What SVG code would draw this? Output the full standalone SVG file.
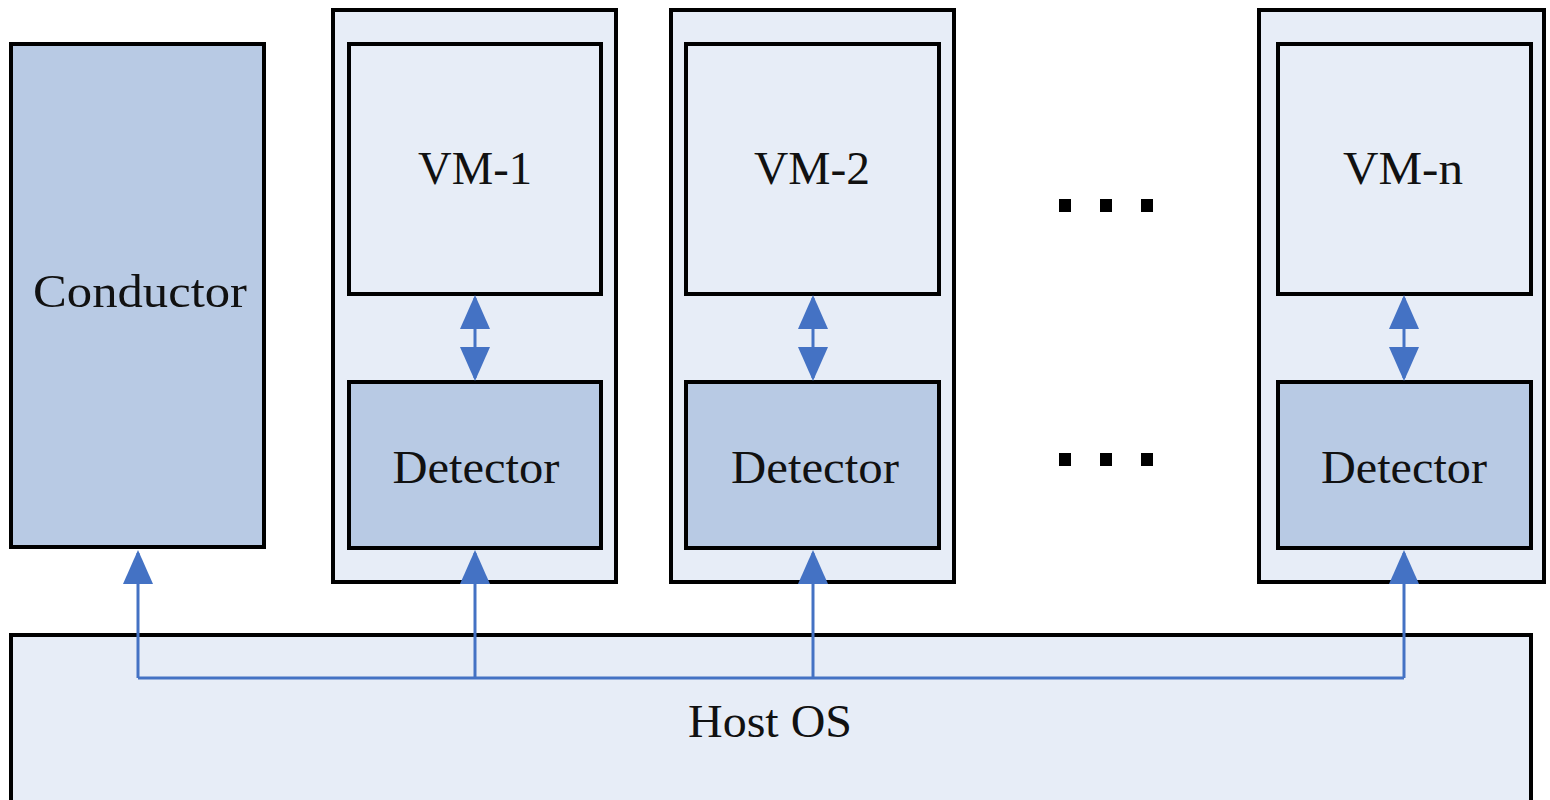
<svg xmlns="http://www.w3.org/2000/svg" width="1550" height="800" viewBox="0 0 1550 800">
  <style>
    .frame { fill: #E7EDF7; stroke: #000; stroke-width: 4; }
    .vm { fill: #E7EDF7; stroke: #000; stroke-width: 4; }
    .unit { fill: #B8CAE4; stroke: #000; stroke-width: 4; }
    .label { font-family: "Liberation Serif", "Times New Roman", serif; font-size: 46px; fill: #111; text-anchor: middle; }
    .link { fill: none; stroke: #4472C4; stroke-width: 3; }
    .dot { fill: #000; }
  </style>
  <defs>
    <marker id="head" viewBox="0 0 34 30" refX="31" refY="15" markerWidth="34" markerHeight="30" markerUnits="userSpaceOnUse" orient="auto-start-reverse">
      <path d="M0,0 L34,15 L0,30 z" fill="#4472C4"/>
    </marker>
  </defs>

  <rect width="1550" height="800" fill="#fff"/>

  <!-- host operating system -->
  <g id="host-os">
    <rect class="frame" x="11" y="635" width="1520" height="200"/>
    <text class="label" x="770" y="737" textLength="164" lengthAdjust="spacingAndGlyphs">Host OS</text>
  </g>

  <!-- conductor -->
  <g id="conductor">
    <rect class="unit" x="11" y="44" width="253" height="503"/>
    <text class="label" x="140" y="307" textLength="214" lengthAdjust="spacingAndGlyphs">Conductor</text>
  </g>

  <!-- guest 1 -->
  <g id="guest-1">
    <rect class="vm" x="333" y="10" width="283" height="572"/>
  </g>
  <g id="vm-1">
    <rect class="vm" x="349" y="44" width="252" height="250"/>
    <text class="label" x="475" y="184" textLength="114" lengthAdjust="spacingAndGlyphs">VM-1</text>
  </g>
  <g id="detector-1">
    <rect class="unit" x="349" y="382" width="252" height="166"/>
    <text class="label" x="476" y="483" textLength="167" lengthAdjust="spacingAndGlyphs">Detector</text>
  </g>

  <!-- guest 2 -->
  <g id="guest-2">
    <rect class="vm" x="671" y="10" width="283" height="572"/>
  </g>
  <g id="vm-2">
    <rect class="vm" x="686" y="44" width="253" height="250"/>
    <text class="label" x="812" y="184" textLength="116" lengthAdjust="spacingAndGlyphs">VM-2</text>
  </g>
  <g id="detector-2">
    <rect class="unit" x="686" y="382" width="253" height="166"/>
    <text class="label" x="815" y="483" textLength="168" lengthAdjust="spacingAndGlyphs">Detector</text>
  </g>

  <!-- guest n -->
  <g id="guest-n">
    <rect class="vm" x="1259" y="10" width="285" height="572"/>
  </g>
  <g id="vm-n">
    <rect class="vm" x="1278" y="44" width="253" height="250"/>
    <text class="label" x="1403" y="184" textLength="120" lengthAdjust="spacingAndGlyphs">VM-n</text>
  </g>
  <g id="detector-n">
    <rect class="unit" x="1278" y="382" width="253" height="166"/>
    <text class="label" x="1404" y="483" textLength="166" lengthAdjust="spacingAndGlyphs">Detector</text>
  </g>

  <!-- ellipsis between guests -->
  <g id="ellipsis">
    <rect class="dot" x="1059" y="199" width="12" height="13"/>
    <rect class="dot" x="1100" y="199" width="12" height="13"/>
    <rect class="dot" x="1141" y="199" width="12" height="13"/>
    <rect class="dot" x="1059" y="453" width="12" height="13"/>
    <rect class="dot" x="1100" y="453" width="12" height="13"/>
    <rect class="dot" x="1141" y="453" width="12" height="13"/>
  </g>

  <!-- connectors -->
  <g id="connectors">
    <!-- VM to detector, both directions -->
    <line class="link" x1="475" y1="298" x2="475" y2="378" marker-start="url(#head)" marker-end="url(#head)"/>
    <line class="link" x1="813" y1="298" x2="813" y2="378" marker-start="url(#head)" marker-end="url(#head)"/>
    <line class="link" x1="1404" y1="298" x2="1404" y2="378" marker-start="url(#head)" marker-end="url(#head)"/>
    <!-- host bus -->
    <path class="link" d="M138,678 H1404"/>
    <line class="link" x1="138" y1="678" x2="138" y2="553" marker-end="url(#head)"/>
    <line class="link" x1="475" y1="678" x2="475" y2="553" marker-end="url(#head)"/>
    <line class="link" x1="813" y1="678" x2="813" y2="553" marker-end="url(#head)"/>
    <line class="link" x1="1404" y1="678" x2="1404" y2="553" marker-end="url(#head)"/>
  </g>
</svg>
